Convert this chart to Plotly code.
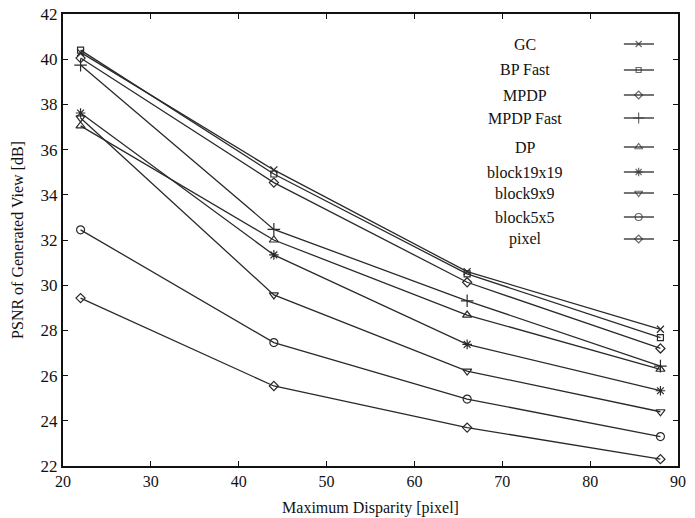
import plotly.graph_objects as go

max_disparity = [22, 44, 66, 88]

series_names = ["GC", "BP Fast", "MPDP", "MPDP Fast", "DP",
                "block19x19", "block9x9", "block5x5", "pixel"]

gc = [40.3, 35.1, 30.6, 28.05]
bp_fast = [40.4, 34.92, 30.5, 27.68]
mpdp = [40.05, 34.54, 30.13, 27.2]
mpdp_fast = [39.74, 32.47, 29.31, 26.42]
dp = [37.05, 32.0, 28.68, 26.28]
block19 = [37.62, 31.34, 27.38, 25.33]
block9 = [37.4, 29.57, 26.2, 24.4]
block5 = [32.45, 27.46, 24.96, 23.3]
pixel = [29.43, 25.54, 23.7, 22.3]

series_values = [gc, bp_fast, mpdp, mpdp_fast, dp, block19, block9, block5, pixel]
symbols = ["x-thin", "square-open", "diamond-open", "cross-thin", "triangle-up-open",
           "asterisk", "triangle-down-open", "circle-open", "diamond-open"]
sizes = [7, 6, 7, 9, 8, 8, 8, 8, 7]

x_ticks = [20, 30, 40, 50, 60, 70, 80, 90]
y_ticks = [22, 24, 26, 28, 30, 32, 34, 36, 38, 40, 42]

COL = "#2a2a2a"
FONT = "Liberation Serif"

fig = go.Figure()
for name, vals, sym, sz in zip(series_names, series_values, symbols, sizes):
    fig.add_trace(go.Scatter(
        x=max_disparity, y=vals, name=name, mode="lines+markers",
        line=dict(color=COL, width=1.3),
        marker=dict(symbol=sym, size=sz, color=COL, line=dict(color=COL, width=1.2)),
        showlegend=False,
    ))

# custom legend: text left, sample right
legend_rows_y = [44, 70, 95, 118, 147, 172, 193, 217, 239]  # window pixel rows
plot_top, plot_bottom = 14, 466
for name, sym, sz, ry in zip(series_names, symbols, sizes, legend_rows_y):
    yf = 1 - (ry - plot_top) / (plot_bottom - plot_top)
    fig.add_annotation(xref="paper", yref="paper", x=0.752, y=yf, text=name,
                       showarrow=False, xanchor="center", yanchor="middle",
                       font=dict(family=FONT, size=16, color="#111"))
    fig.add_trace(go.Scatter(
        x=[0.912, 0.936, 0.961], y=[yf, yf, yf], xaxis="x2", yaxis="y2",
        mode="lines+markers", line=dict(color=COL, width=1.3),
        marker=dict(symbol=sym, size=[0, sz - 1, 0], color=COL,
                    line=dict(color=COL, width=1.2)),
        showlegend=False, hoverinfo="skip",
    ))

fig.update_layout(
    width=695, height=518,
    margin=dict(l=63, r=17, t=14, b=52),
    paper_bgcolor="white", plot_bgcolor="white",
    font=dict(family=FONT, size=16, color="#111"),
    showlegend=False,
    xaxis=dict(range=[20, 90], tickvals=x_ticks, ticks="inside", ticklen=5,
               tickcolor="#111", showline=True, linecolor="#111", linewidth=2,
               mirror="ticks", showgrid=False, zeroline=False, automargin=False,
               tickfont=dict(family=FONT, size=16),
               title=dict(text="Maximum Disparity [pixel]", standoff=13,
                          font=dict(family=FONT, size=16))),
    yaxis=dict(range=[22, 42], tickvals=y_ticks, ticks="inside", ticklen=5,
               tickcolor="#111", showline=True, linecolor="#111", linewidth=2,
               mirror="ticks", showgrid=False, zeroline=False, automargin=False,
               tickfont=dict(family=FONT, size=17),
               title=dict(text="PSNR of Generated View [dB]", standoff=13,
                          font=dict(family=FONT, size=16))),
    xaxis2=dict(range=[0, 1], overlaying="x", visible=False, fixedrange=True),
    yaxis2=dict(range=[0, 1], overlaying="y", visible=False, fixedrange=True),
)

fig.write_html("out.html", config={"displayModeBar": False},
               post_script="document.body.style.margin='0';document.body.style.overflow='hidden';")
